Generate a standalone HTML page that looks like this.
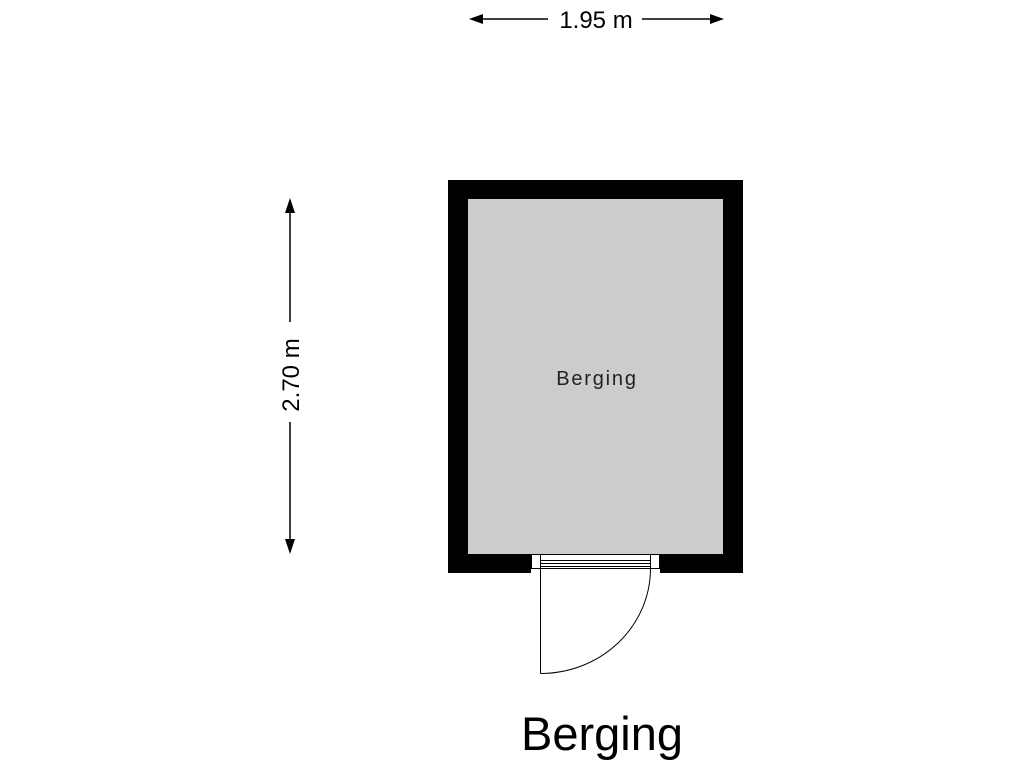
<!DOCTYPE html>
<html><head><meta charset="utf-8"><style>
html,body{margin:0;padding:0;background:#fff;width:1024px;height:768px;overflow:hidden}
</style></head><body>
<svg width="1024" height="768" viewBox="0 0 1024 768" xmlns="http://www.w3.org/2000/svg" font-family="Liberation Sans, sans-serif">
<rect x="448" y="180" width="295" height="393" fill="#000"/>
<rect x="468" y="199" width="255" height="355" fill="#cccccc"/>
<rect x="531" y="554" width="129" height="20" fill="#fff"/>
<g fill="none" stroke="#000" stroke-width="1">
<rect x="531.5" y="554.5" width="128" height="14"/>
<line x1="540.5" y1="554.5" x2="540.5" y2="568.5"/>
<line x1="650.5" y1="554.5" x2="650.5" y2="568.5"/>
<line x1="540.5" y1="560.5" x2="650.5" y2="560.5"/>
<line x1="540.5" y1="563.5" x2="650.5" y2="563.5"/>
<line x1="540.5" y1="566.5" x2="650.5" y2="566.5"/>
<line x1="540.5" y1="568.5" x2="540.5" y2="673.5"/>
<path d="M650.5 568.5 A110 105 0 0 1 540.5 673.5"/>
</g>
<text x="597" y="385" font-size="20" text-anchor="middle" fill="#222" letter-spacing="1.8">Berging</text>
<text x="602" y="750" font-size="47" text-anchor="middle" fill="#000">Berging</text>
<g stroke="#000" stroke-width="1.5">
<line x1="480" y1="19" x2="548" y2="19"/>
<line x1="642" y1="19" x2="712" y2="19"/>
<line x1="290" y1="210" x2="290" y2="322"/>
<line x1="290" y1="422" x2="290" y2="542"/>
</g>
<g fill="#000">
<polygon points="469,19 483,14 483,24"/>
<polygon points="724,19 710,14 710,24"/>
<polygon points="290,198 285,213 295,213"/>
<polygon points="290,554 285,539 295,539"/>
</g>
<text x="596" y="28" font-size="24" text-anchor="middle" fill="#000">1.95 m</text>
<text transform="translate(299,375) rotate(-90)" font-size="24" text-anchor="middle" fill="#000">2.70 m</text>
</svg>
</body></html>
